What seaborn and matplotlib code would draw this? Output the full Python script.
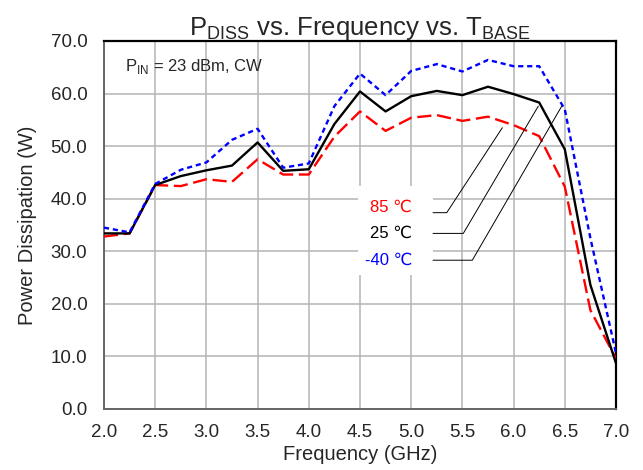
import numpy as np
import pandas as pd
import seaborn as sns
import matplotlib.pyplot as plt
from matplotlib.patches import Rectangle

# data
freq = [2.0, 2.25, 2.5, 2.75, 3.0, 3.25, 3.5, 3.75, 4.0, 4.25, 4.5,
        4.75, 5.0, 5.25, 5.5, 5.75, 6.0, 6.25, 6.5, 6.75, 7.0]
p_85 = [32.8, 33.4, 42.6, 42.4, 43.7, 43.2, 47.5, 44.6, 44.6, 51.8, 56.6,
        52.9, 55.4, 55.9, 54.8, 55.6, 54.0, 51.9, 42.3, 18.8, 9.6]
p_25 = [33.4, 33.4, 42.6, 44.3, 45.4, 46.3, 50.7, 45.3, 45.6, 54.2, 60.4,
        56.6, 59.5, 60.5, 59.7, 61.3, 59.9, 58.3, 49.4, 23.6, 8.7]
p_m40 = [34.5, 33.6, 42.8, 45.5, 46.9, 51.2, 53.3, 45.9, 46.7, 57.6, 63.8,
         59.7, 64.3, 65.6, 64.2, 66.4, 65.2, 65.2, 57.0, 32.5, 10.6]
temps = ["85 \u2103", "25 \u2103", "-40 \u2103"]
colors = ["red", "black", "blue"]

df = pd.DataFrame({
    "freq": freq * 3,
    "pdiss": p_85 + p_25 + p_m40,
    "temp": [temps[0]] * len(freq) + [temps[1]] * len(freq) + [temps[2]] * len(freq),
})

sns.set_style("white")
plt.rcParams['font.family'] = ['Liberation Sans', 'DejaVu Sans']
plt.rcParams['mathtext.fontset'] = 'custom'
plt.rcParams['mathtext.rm'] = 'Liberation Sans'

fig = plt.figure(figsize=(6.43, 4.70), dpi=100)
ax = fig.add_axes([0.1617, 0.1298, 0.958 - 0.1617, 0.9128 - 0.1298])

sns.lineplot(data=df, x="freq", y="pdiss", hue="temp", style="temp",
             palette=dict(zip(temps, colors)),
             dashes={temps[0]: (6, 2.4), temps[1]: "", temps[2]: (2.2, 1.6)},
             linewidth=1.7, legend=False, ax=ax, zorder=3)

ax.set_xlim(2.0, 7.0)
ax.set_ylim(0, 70)
ax.set_xticks(np.arange(2.0, 7.01, 0.5))
ax.set_yticks(np.arange(0, 70.1, 10))
ax.set_xticklabels([f"{v:.1f}" for v in np.arange(2.0, 7.01, 0.5)])
ax.set_yticklabels([f"{v:.1f}" for v in np.arange(0, 70.1, 10)])
ax.tick_params(length=0, labelsize=13.5)
ax.tick_params(axis="y", pad=12)
ax.tick_params(axis="x", pad=11)
ax.grid(True, color="#b4b4b4", linewidth=1.1)
ax.set_axisbelow(True)
for s in ["top", "right"]:
    ax.spines[s].set_color("black")
    ax.spines[s].set_linewidth(1.6)
for s in ["left", "bottom"]:
    ax.spines[s].set_color("#666666")
    ax.spines[s].set_linewidth(1.4)

ax.set_xlabel("Frequency (GHz)", fontsize=14.5, labelpad=3)
ax.set_ylabel("Power Dissipation (W)", fontsize=14.5, labelpad=10)
ax.set_title(r"P$_{\mathrm{DISS}}$ vs. Frequency vs. T$_{\mathrm{BASE}}$",
             fontsize=18.5, pad=4)

ax.text(2.205, 65.1, r"P$_{\mathrm{IN}}$ = 23 dBm, CW", fontsize=12,
        va="center", ha="left")

# label box with leader lines
ax.add_patch(Rectangle((4.48, 25.5), 0.733, 16.9, facecolor="white",
                       edgecolor="none", zorder=2))
label_y = [38.3, 33.4, 28.3]
leader = [((5.213, 37.34), (5.347, 37.34), (5.89, 53.5)),
          ((5.213, 33.4), (5.509, 33.4), (6.241, 57.6)),
          ((5.213, 28.3), (5.597, 28.3), (6.47, 57.6))]
for t, c, y, pts in zip(temps, colors, label_y, leader):
    ax.text(5.008, y, t, color=c, fontsize=12, ha="right", va="center", zorder=4)
    xs, ys = zip(*pts)
    ax.plot(xs, ys, color="black", linewidth=0.7, zorder=4)

fig.savefig("out.png", dpi=100)
